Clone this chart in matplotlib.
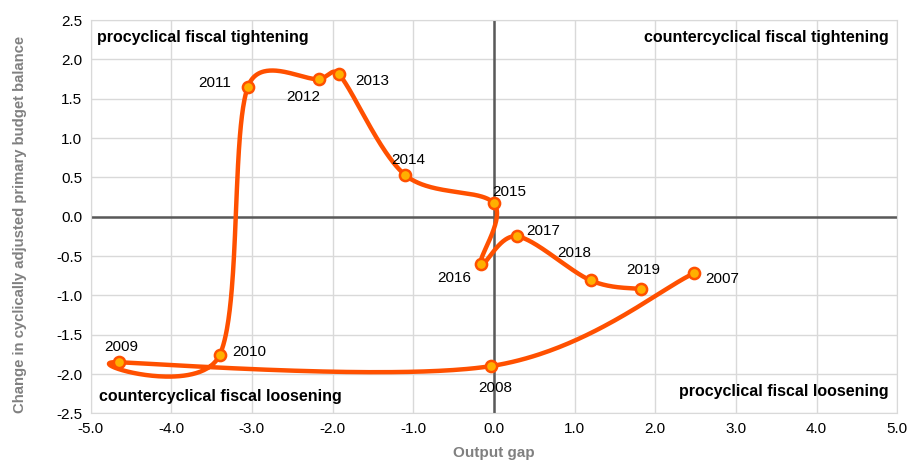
import matplotlib
matplotlib.use('Agg')
import matplotlib.pyplot as plt
import numpy as np

plt.rcParams['font.family'] = ['Liberation Sans', 'DejaVu Sans']

# Data (output gap, change in CAPB), in time order
years = ['2007', '2008', '2009', '2010', '2011', '2012', '2013',
         '2014', '2015', '2016', '2017', '2018', '2019']
output_gap = [2.48, -0.04, -4.65, -3.40, -3.05, -2.17, -1.92,
              -1.10, 0.00, -0.16, 0.29, 1.20, 1.82]
capb_change = [-0.72, -1.90, -1.85, -1.76, 1.65, 1.75, 1.81,
               0.53, 0.17, -0.60, -0.25, -0.81, -0.92]

# label offsets in points (dx, dy, ha)
label_pos = {
    '2007': (8, -4, 'left'),
    '2008': (3.5, -16, 'center'),
    '2009': (1.5, 11, 'center'),
    '2010': (9, 2, 'left'),
    '2011': (-12, 3, 'right'),
    '2012': (-11, -13, 'center'),
    '2013': (11.5, -5, 'left'),
    '2014': (2, 11, 'center'),
    '2015': (-1, 8, 'left'),
    '2016': (-7, -10, 'right'),
    '2017': (6.5, 4, 'left'),
    '2018': (-12, 20, 'center'),
    '2019': (1.5, 14, 'center'),
}

line_col = '#FF5000'
marker_col = '#FFB000'


def smooth(x, y, n=80):
    # Excel-like smoothed line: cubic bezier, tangent from neighbours,
    # handle length limited to half of the segment
    p = np.column_stack([x, y])
    m = len(p)
    tang = []
    for i in range(m):
        a = p[max(i - 1, 0)]
        b = p[min(i + 1, m - 1)]
        d = b - a
        L = np.hypot(*d)
        tang.append((d / L if L > 0 else d, L))
    pts = [p[0]]
    for i in range(m - 1):
        p1, p2 = p[i], p[i + 1]
        seg_len = np.hypot(*(p2 - p1))
        t1, l1 = tang[i]
        t2, l2 = tang[i + 1]
        c1 = p1 + t1 * min(l1 / 6, seg_len / 2)
        c2 = p2 - t2 * min(l2 / 6, seg_len / 2)
        t = np.linspace(0, 1, n)[1:, None]
        seg = ((1 - t) ** 3) * p1 + 3 * ((1 - t) ** 2) * t * c1 \
            + 3 * (1 - t) * t ** 2 * c2 + t ** 3 * p2
        pts.extend(seg)
    pts = np.array(pts)
    return pts[:, 0], pts[:, 1]


fig = plt.figure(figsize=(9.09, 4.66), dpi=100)
ax = fig.add_axes([0.0996, 0.113, 0.8874, 0.844])

ax.set_xlim(-5, 5)
ax.set_ylim(-2.5, 2.5)
ax.set_xticks(np.arange(-5, 5.1, 1))
ax.set_yticks(np.arange(-2.5, 2.6, 0.5))
ax.xaxis.set_major_formatter(matplotlib.ticker.FormatStrFormatter('%.1f'))
ax.yaxis.set_major_formatter(matplotlib.ticker.FormatStrFormatter('%.1f'))
ax.grid(True, color='#D9D9D9', linewidth=1)
ax.set_axisbelow(True)
ax.tick_params(length=0, labelsize=11, pad=6)
for s in ax.spines.values():
    s.set_color('#D9D9D9')
ax.axhline(0, color='#595959', linewidth=1.8, zorder=1)
ax.axvline(0, color='#595959', linewidth=1.8, zorder=1)

sx, sy = smooth(output_gap, capb_change)
ax.plot(sx, sy, color=line_col, linewidth=3.2, solid_capstyle='round', zorder=3)
ax.scatter(output_gap, capb_change, s=65, facecolor=marker_col,
           edgecolor=line_col, linewidth=1.8, zorder=4)

for yr, xv, yv in zip(years, output_gap, capb_change):
    dx, dy, ha = label_pos[yr]
    ax.annotate(yr, (xv, yv), xytext=(dx, dy), textcoords='offset points',
                ha=ha, va='center', fontsize=11, zorder=5)

qkw = dict(transform=ax.transAxes, fontsize=11.5, fontweight='bold')
ax.text(0.008, 0.955, 'procyclical fiscal tightening', ha='left', va='center', **qkw)
ax.text(0.99, 0.955, 'countercyclical fiscal tightening', ha='right', va='center', **qkw)
ax.text(0.010, 0.042, 'countercyclical fiscal loosening', ha='left', va='center', **qkw)
ax.text(0.99, 0.056, 'procyclical fiscal loosening', ha='right', va='center', **qkw)

ax.set_xlabel('Output gap', fontsize=11, fontweight='bold', color='#808080')
ax.set_ylabel('Change in cyclically adjusted primary budget balance', fontsize=10.7,
              fontweight='bold', color='#808080')
ax.xaxis.set_label_coords(0.5, -0.082)
ax.yaxis.set_label_coords(-0.079, 0.481)

fig.savefig('out.png', dpi=100)
